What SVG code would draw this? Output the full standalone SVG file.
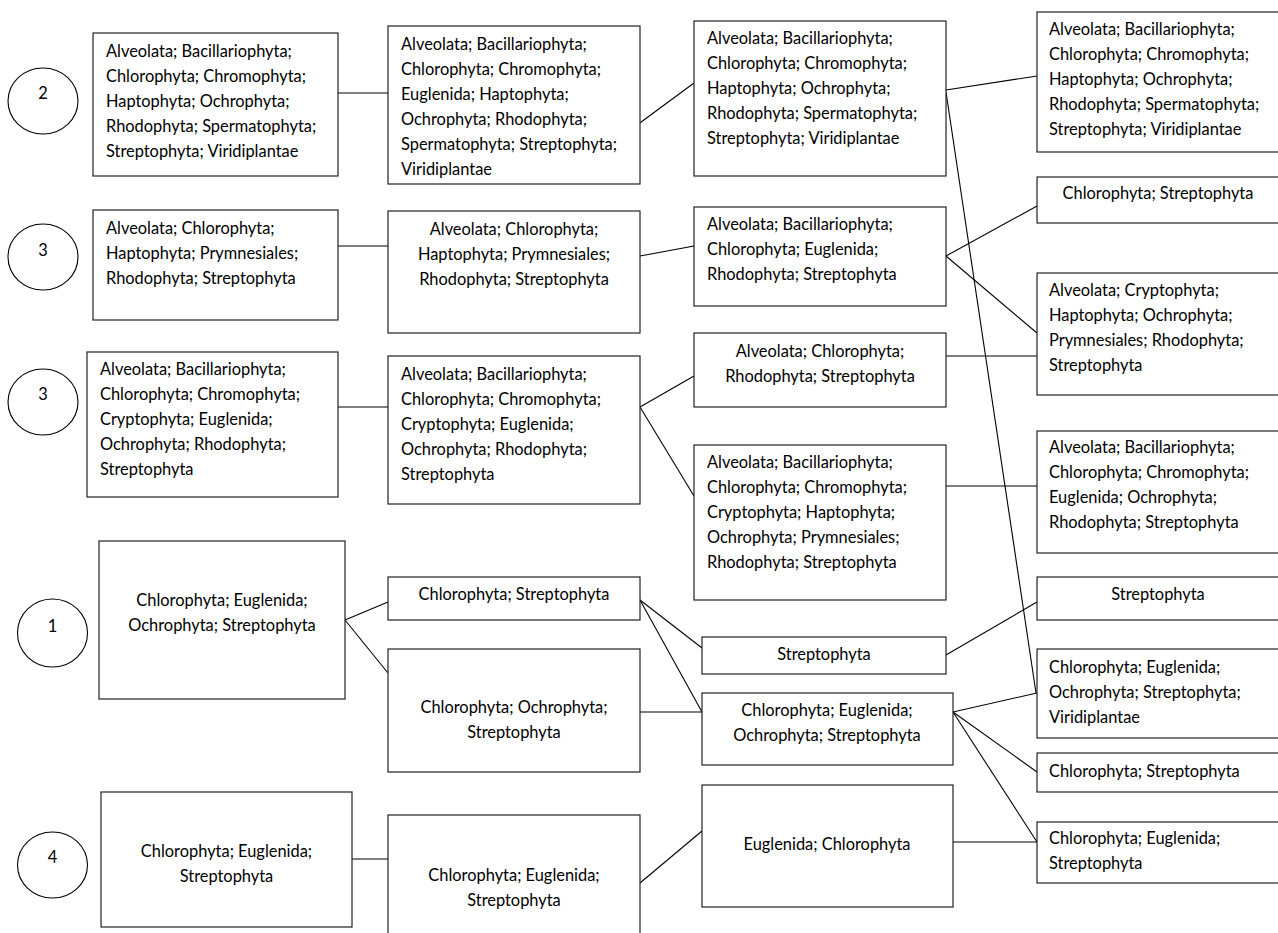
<svg xmlns="http://www.w3.org/2000/svg" width="1278" height="933" viewBox="0 0 1278 933">
  <style>
    .box { fill: #fff; stroke: #222; stroke-width: 1.2; }
    .lbl { fill: #fff; stroke: #000; stroke-width: 1.1; }
    text { font-family: Lato, "Liberation Sans", sans-serif; font-size: 16.4px; fill: #000; }
    .c { text-anchor: middle; }
    #connectors line { stroke: #000; stroke-width: 1.1; }
  </style>
  <rect width="1278" height="933" fill="#fff"/>

  <!-- connectors -->
  <g id="connectors">
    <line x1="338" y1="93" x2="388" y2="93"/>
    <line x1="633" y1="128" x2="694" y2="83"/>
    <line x1="946" y1="90" x2="1037" y2="76"/>
    <line x1="946" y1="92" x2="1036" y2="693"/>
    <line x1="338" y1="246" x2="388" y2="246"/>
    <line x1="640" y1="256" x2="694" y2="246"/>
    <line x1="946" y1="256" x2="1037" y2="206"/>
    <line x1="946" y1="256" x2="1037" y2="333"/>
    <line x1="338" y1="407" x2="388" y2="407"/>
    <line x1="640" y1="407" x2="694" y2="376"/>
    <line x1="640" y1="407" x2="694" y2="496"/>
    <line x1="946" y1="356" x2="1037" y2="356"/>
    <line x1="946" y1="486" x2="1037" y2="486"/>
    <line x1="345" y1="620" x2="388" y2="602"/>
    <line x1="345" y1="620" x2="388" y2="673"/>
    <line x1="640" y1="600" x2="702" y2="648"/>
    <line x1="640" y1="600" x2="702" y2="712"/>
    <line x1="640" y1="712" x2="702" y2="712"/>
    <line x1="946" y1="655" x2="1037" y2="602"/>
    <line x1="953" y1="712" x2="1037" y2="693"/>
    <line x1="953" y1="712" x2="1037" y2="772"/>
    <line x1="953" y1="712" x2="1037" y2="842"/>
    <line x1="352" y1="859" x2="388" y2="859"/>
    <line x1="640" y1="883" x2="702" y2="831"/>
    <line x1="953" y1="842" x2="1037" y2="842"/>
  </g>

  <!-- group labels -->
  <g id="label-2"><ellipse class="lbl" cx="43" cy="101" rx="35" ry="33"/><text class="c" x="43" y="99">2</text></g>
  <g id="label-3a"><ellipse class="lbl" cx="43" cy="257" rx="35" ry="33"/><text class="c" x="43" y="256">3</text></g>
  <g id="label-3b"><ellipse class="lbl" cx="43" cy="402" rx="35" ry="33"/><text class="c" x="43" y="400">3</text></g>
  <g id="label-1"><ellipse class="lbl" cx="52.5" cy="633" rx="35" ry="34"/><text class="c" x="52.5" y="632">1</text></g>
  <g id="label-4"><ellipse class="lbl" cx="52.5" cy="865" rx="35" ry="33"/><text class="c" x="52.5" y="863">4</text></g>

  <!-- row A -->
  <g id="A1"><rect class="box" x="93" y="33" width="245" height="143"/>
    <text x="106" y="57">Alveolata; Bacillariophyta;</text>
    <text x="106" y="82">Chlorophyta; Chromophyta;</text>
    <text x="106" y="107">Haptophyta; Ochrophyta;</text>
    <text x="106" y="132">Rhodophyta; Spermatophyta;</text>
    <text x="106" y="157">Streptophyta; Viridiplantae</text>
  </g>
  <g id="A2"><rect class="box" x="388" y="26" width="252" height="158"/>
    <text x="401" y="50">Alveolata; Bacillariophyta;</text>
    <text x="401" y="75">Chlorophyta; Chromophyta;</text>
    <text x="401" y="100">Euglenida; Haptophyta;</text>
    <text x="401" y="125">Ochrophyta; Rhodophyta;</text>
    <text x="401" y="150">Spermatophyta; Streptophyta;</text>
    <text x="401" y="175">Viridiplantae</text>
  </g>
  <g id="A3"><rect class="box" x="694" y="21" width="252" height="155"/>
    <text x="707" y="44">Alveolata; Bacillariophyta;</text>
    <text x="707" y="69">Chlorophyta; Chromophyta;</text>
    <text x="707" y="94">Haptophyta; Ochrophyta;</text>
    <text x="707" y="119">Rhodophyta; Spermatophyta;</text>
    <text x="707" y="144">Streptophyta; Viridiplantae</text>
  </g>
  <g id="A4"><rect class="box" x="1037" y="12" width="250" height="140"/>
    <text x="1049" y="35">Alveolata; Bacillariophyta;</text>
    <text x="1049" y="60">Chlorophyta; Chromophyta;</text>
    <text x="1049" y="85">Haptophyta; Ochrophyta;</text>
    <text x="1049" y="110">Rhodophyta; Spermatophyta;</text>
    <text x="1049" y="135">Streptophyta; Viridiplantae</text>
  </g>

  <!-- row B -->
  <g id="B1"><rect class="box" x="93" y="210" width="245" height="110"/>
    <text x="106" y="234">Alveolata; Chlorophyta;</text>
    <text x="106" y="259">Haptophyta; Prymnesiales;</text>
    <text x="106" y="284">Rhodophyta; Streptophyta</text>
  </g>
  <g id="B2"><rect class="box" x="388" y="211" width="252" height="122"/>
    <text class="c" x="514" y="235">Alveolata; Chlorophyta;</text>
    <text class="c" x="514" y="260">Haptophyta; Prymnesiales;</text>
    <text class="c" x="514" y="285">Rhodophyta; Streptophyta</text>
  </g>
  <g id="B3"><rect class="box" x="694" y="207" width="252" height="99"/>
    <text x="707" y="230">Alveolata; Bacillariophyta;</text>
    <text x="707" y="255">Chlorophyta; Euglenida;</text>
    <text x="707" y="280">Rhodophyta; Streptophyta</text>
  </g>
  <g id="B4"><rect class="box" x="1037" y="177" width="250" height="46"/>
    <text class="c" x="1158" y="199">Chlorophyta; Streptophyta</text>
  </g>
  <g id="B5"><rect class="box" x="1037" y="273" width="250" height="122"/>
    <text x="1049" y="296">Alveolata; Cryptophyta;</text>
    <text x="1049" y="321">Haptophyta; Ochrophyta;</text>
    <text x="1049" y="346">Prymnesiales; Rhodophyta;</text>
    <text x="1049" y="371">Streptophyta</text>
  </g>

  <!-- row C -->
  <g id="C1"><rect class="box" x="87" y="352" width="251" height="145"/>
    <text x="100" y="375">Alveolata; Bacillariophyta;</text>
    <text x="100" y="400">Chlorophyta; Chromophyta;</text>
    <text x="100" y="425">Cryptophyta; Euglenida;</text>
    <text x="100" y="450">Ochrophyta; Rhodophyta;</text>
    <text x="100" y="475">Streptophyta</text>
  </g>
  <g id="C2"><rect class="box" x="388" y="356" width="252" height="148"/>
    <text x="401" y="380">Alveolata; Bacillariophyta;</text>
    <text x="401" y="405">Chlorophyta; Chromophyta;</text>
    <text x="401" y="430">Cryptophyta; Euglenida;</text>
    <text x="401" y="455">Ochrophyta; Rhodophyta;</text>
    <text x="401" y="480">Streptophyta</text>
  </g>
  <g id="C3"><rect class="box" x="694" y="333" width="252" height="74"/>
    <text class="c" x="820" y="357">Alveolata; Chlorophyta;</text>
    <text class="c" x="820" y="382">Rhodophyta; Streptophyta</text>
  </g>
  <g id="C4"><rect class="box" x="694" y="445" width="252" height="155"/>
    <text x="707" y="468">Alveolata; Bacillariophyta;</text>
    <text x="707" y="493">Chlorophyta; Chromophyta;</text>
    <text x="707" y="518">Cryptophyta; Haptophyta;</text>
    <text x="707" y="543">Ochrophyta; Prymnesiales;</text>
    <text x="707" y="568">Rhodophyta; Streptophyta</text>
  </g>
  <g id="C5"><rect class="box" x="1037" y="431" width="250" height="122"/>
    <text x="1049" y="453">Alveolata; Bacillariophyta;</text>
    <text x="1049" y="478">Chlorophyta; Chromophyta;</text>
    <text x="1049" y="503">Euglenida; Ochrophyta;</text>
    <text x="1049" y="528">Rhodophyta; Streptophyta</text>
  </g>

  <!-- row D -->
  <g id="D1"><rect class="box" x="99" y="541" width="246" height="158"/>
    <text class="c" x="222" y="606">Chlorophyta; Euglenida;</text>
    <text class="c" x="222" y="631">Ochrophyta; Streptophyta</text>
  </g>
  <g id="D2"><rect class="box" x="388" y="577" width="252" height="43"/>
    <text class="c" x="514" y="600">Chlorophyta; Streptophyta</text>
  </g>
  <g id="D3"><rect class="box" x="388" y="649" width="252" height="123"/>
    <text class="c" x="514" y="713">Chlorophyta; Ochrophyta;</text>
    <text class="c" x="514" y="738">Streptophyta</text>
  </g>
  <g id="D4"><rect class="box" x="702" y="637" width="244" height="37"/>
    <text class="c" x="824" y="660">Streptophyta</text>
  </g>
  <g id="D5"><rect class="box" x="702" y="693" width="251" height="72"/>
    <text class="c" x="827" y="716">Chlorophyta; Euglenida;</text>
    <text class="c" x="827" y="741">Ochrophyta; Streptophyta</text>
  </g>
  <g id="D6"><rect class="box" x="1037" y="577" width="250" height="43"/>
    <text class="c" x="1158" y="600">Streptophyta</text>
  </g>
  <g id="D7"><rect class="box" x="1037" y="649" width="250" height="89"/>
    <text x="1049" y="673">Chlorophyta; Euglenida;</text>
    <text x="1049" y="698">Ochrophyta; Streptophyta;</text>
    <text x="1049" y="723">Viridiplantae</text>
  </g>
  <g id="D8"><rect class="box" x="1037" y="753" width="250" height="39"/>
    <text x="1049" y="777">Chlorophyta; Streptophyta</text>
  </g>
  <g id="D9"><rect class="box" x="1037" y="822" width="250" height="61"/>
    <text x="1049" y="844">Chlorophyta; Euglenida;</text>
    <text x="1049" y="869">Streptophyta</text>
  </g>

  <!-- row E -->
  <g id="E1"><rect class="box" x="101" y="792" width="251" height="135"/>
    <text class="c" x="226.5" y="857">Chlorophyta; Euglenida;</text>
    <text class="c" x="226.5" y="882">Streptophyta</text>
  </g>
  <g id="E2"><rect class="box" x="388" y="815" width="252" height="130"/>
    <text class="c" x="514" y="881">Chlorophyta; Euglenida;</text>
    <text class="c" x="514" y="906">Streptophyta</text>
  </g>
  <g id="E3"><rect class="box" x="702" y="785" width="251" height="122"/>
    <text class="c" x="827" y="850">Euglenida; Chlorophyta</text>
  </g>
</svg>
